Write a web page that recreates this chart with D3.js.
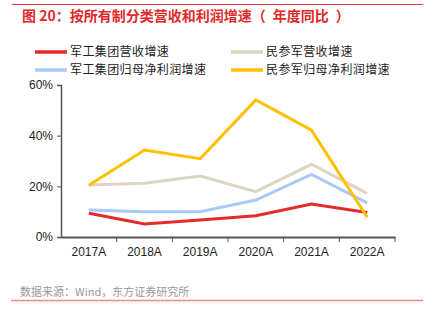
<!DOCTYPE html>
<html>
<head>
<meta charset="utf-8">
<script src="https://cdn.jsdelivr.net/npm/d3@7"></script>
<style>
  body { margin: 0; background: #fff; }
  svg { display: block; font-family: "Liberation Sans", Arial, "Noto Sans CJK SC", sans-serif; }
</style>
</head>
<body>
<svg id="chart" width="438" height="323"></svg>
<script>
// data
var years = ['2017A', '2018A', '2019A', '2020A', '2021A', '2022A'];
var jgRevenue = [9.4, 5.1, 6.7, 8.4, 13.0, 9.7];
var jgProfit = [10.7, 10.0, 10.0, 14.6, 24.7, 13.5];
var mcRevenue = [20.5, 21.2, 24.1, 17.9, 28.7, 17.2];
var mcProfit = [20.4, 34.3, 30.9, 54.1, 42.2, 7.8];
var yTicks = [0, 20, 40, 60];

var series = [
  { name: '军工集团营收增速', values: jgRevenue, color: '#e52a2a' },
  { name: '民参军营收增速', values: mcRevenue, color: '#ddd5c1' },
  { name: '军工集团归母净利润增速', values: jgProfit, color: '#a9c9f9' },
  { name: '民参军归母净利润增速', values: mcProfit, color: '#ffc000' }
];
// draw order: beige and blue under, red and yellow on top
var drawOrder = [1, 2, 0, 3];

var svg = d3.select('#chart');
var cjk = '"Noto Sans CJK SC", sans-serif';

// frame lines
svg.append('line')
  .attr('x1', 12).attr('x2', 423).attr('y1', 4.5).attr('y2', 4.5)
  .attr('stroke', '#e23a3a').attr('stroke-width', 1);
svg.append('line')
  .attr('x1', 11).attr('x2', 423).attr('y1', 300.5).attr('y2', 300.5)
  .attr('stroke', '#f08a80').attr('stroke-width', 1.5);

svg.append('text')
  .attr('x', 22).attr('y', 21)
  .attr('fill', '#e02a2a')
  .style('font-family', cjk)
  .style('font-size', '14px')
  .style('font-weight', 'bold')
  .text('图 20：按所有制分类营收和利润增速（\u2002年度同比\u2002）');

svg.append('text')
  .attr('x', 20).attr('y', 296)
  .attr('fill', '#999')
  .style('font-family', cjk)
  .style('font-size', '11px')
  .text('数据来源：Wind，东方证券研究所');

// legend
var legend = svg.append('g');
series.forEach(function(s, i) {
  var lx = i % 2 === 0 ? 35 : 231;
  var ly = i < 2 ? 52 : 70;
  legend.append('line')
    .attr('x1', lx).attr('x2', lx + 32)
    .attr('y1', ly).attr('y2', ly)
    .attr('stroke', s.color).attr('stroke-width', 3.5);
  legend.append('text')
    .attr('x', lx + 35).attr('y', ly)
    .attr('dy', '0.36em')
    .attr('fill', '#222')
    .style('font-family', cjk)
    .style('font-size', '12px')
    .style('letter-spacing', '0.4px')
    .text(s.name);
});

// scales
var x = d3.scaleBand().domain(years).range([61, 395]);
var y = d3.scaleLinear().domain([0, 60]).range([237, 85]);

var xAxis = svg.append('g')
  .attr('transform', 'translate(0,237)')
  .call(d3.axisBottom(x).tickSize(0).tickPadding(10));
xAxis.select('.domain').attr('stroke', '#555').attr('stroke-width', 2);
xAxis.selectAll('text').attr('fill', '#222').style('font-size', '12px');

// x ticks on band edges
svg.append('g').selectAll('line')
  .data(years.slice(1).concat(['end']))
  .enter().append('line')
  .attr('x1', function(d, i) { return i < years.length - 1 ? x(d) : x.range()[1]; })
  .attr('x2', function(d, i) { return i < years.length - 1 ? x(d) : x.range()[1]; })
  .attr('y1', 237).attr('y2', 242)
  .attr('stroke', '#555');

var yAxis = svg.append('g')
  .attr('transform', 'translate(61,0)')
  .call(d3.axisLeft(y).tickValues(yTicks).tickSize(4).tickPadding(4)
    .tickFormat(function(d) { return d + '%'; }));
yAxis.select('.domain').attr('stroke', '#555').attr('stroke-width', 1.5);
yAxis.selectAll('.tick line').attr('stroke', '#555');
yAxis.selectAll('text').attr('fill', '#222').style('font-size', '12px');

var line = d3.line()
  .x(function(d, i) { return x(years[i]) + x.bandwidth() / 2; })
  .y(function(d) { return y(d); });

drawOrder.forEach(function(k) {
  svg.append('path')
    .datum(series[k].values)
    .attr('d', line)
    .attr('fill', 'none')
    .attr('stroke', series[k].color)
    .attr('stroke-width', 3);
});
</script>
</body>
</html>
